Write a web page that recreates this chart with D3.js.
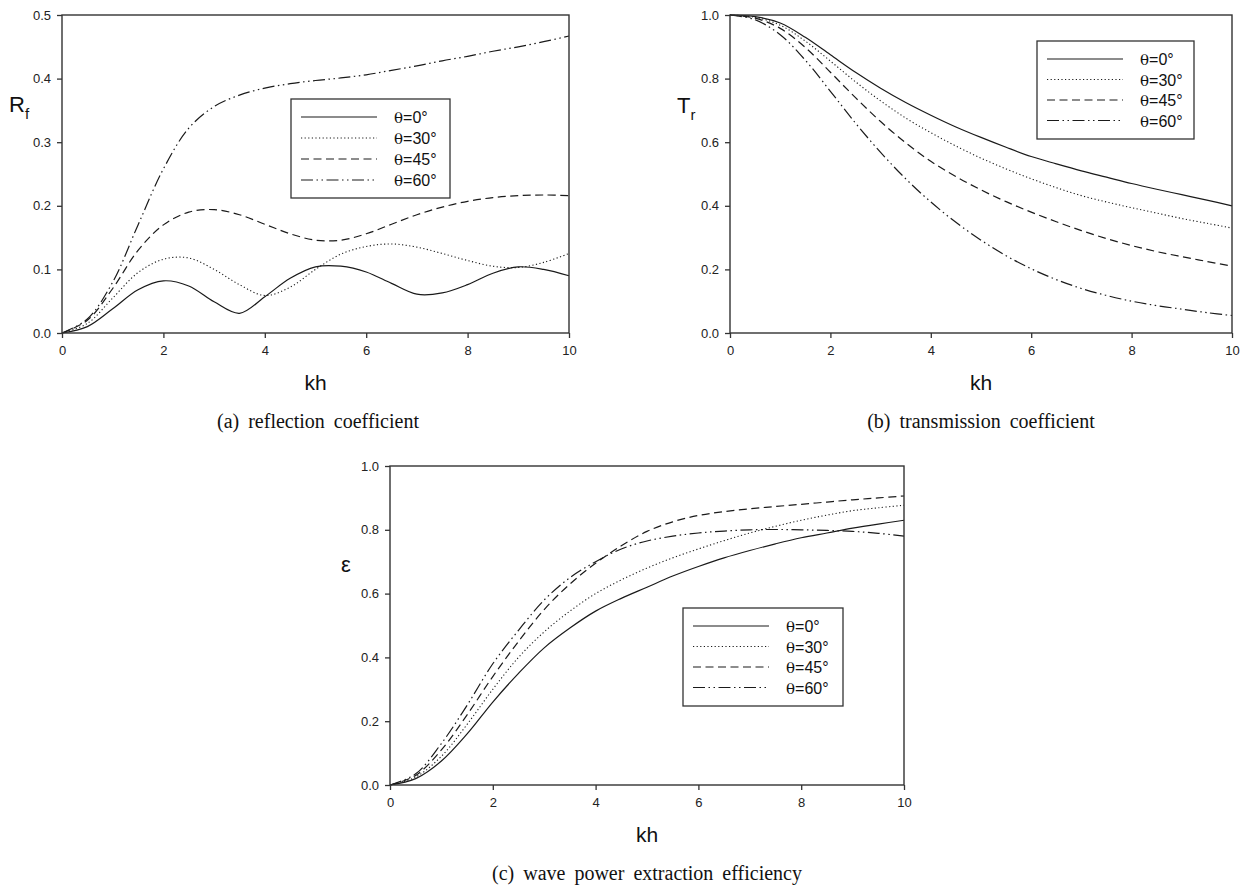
<!DOCTYPE html>
<html>
<head>
<meta charset="utf-8">
<script src="https://cdn.jsdelivr.net/npm/d3@7/dist/d3.min.js"></script>
<style>
  body { margin: 0; background: #fff; }
  svg { display: block; }
</style>
</head>
<body>
<svg id="chart" width="1250" height="891"></svg>
<script>
// kh grid shared by all curves
const kh = [0, 0.5, 1, 1.5, 2, 2.5, 3, 3.5, 4, 4.5, 5, 5.5, 6, 6.5, 7, 7.5, 8, 8.5, 9, 9.5, 10];

const seriesNames = ["θ=0°", "θ=30°", "θ=45°", "θ=60°"];

// (a) reflection coefficient
const rf0  = [0, 0.010, 0.038, 0.068, 0.082, 0.074, 0.049, 0.031, 0.057, 0.086, 0.104, 0.105, 0.096, 0.078, 0.061, 0.063, 0.076, 0.094, 0.104, 0.100, 0.090];
const rf30 = [0, 0.015, 0.055, 0.095, 0.116, 0.118, 0.100, 0.076, 0.059, 0.072, 0.100, 0.124, 0.136, 0.140, 0.135, 0.125, 0.114, 0.105, 0.103, 0.111, 0.125];
const rf45 = [0, 0.020, 0.070, 0.130, 0.170, 0.190, 0.194, 0.186, 0.171, 0.156, 0.146, 0.146, 0.156, 0.171, 0.186, 0.198, 0.207, 0.213, 0.216, 0.217, 0.216];
const rf60 = [0, 0.022, 0.080, 0.170, 0.258, 0.322, 0.356, 0.374, 0.385, 0.392, 0.397, 0.401, 0.406, 0.413, 0.420, 0.428, 0.435, 0.443, 0.450, 0.458, 0.467];

// (b) transmission coefficient
const tr0  = [1, 0.995, 0.975, 0.930, 0.875, 0.820, 0.770, 0.725, 0.685, 0.648, 0.615, 0.584, 0.555, 0.532, 0.510, 0.490, 0.470, 0.452, 0.435, 0.418, 0.400];
const tr30 = [1, 0.993, 0.968, 0.918, 0.855, 0.790, 0.730, 0.676, 0.630, 0.588, 0.550, 0.516, 0.485, 0.457, 0.432, 0.412, 0.394, 0.377, 0.360, 0.345, 0.330];
const tr45 = [1, 0.990, 0.958, 0.898, 0.820, 0.740, 0.665, 0.598, 0.540, 0.492, 0.450, 0.413, 0.380, 0.350, 0.322, 0.297, 0.275, 0.256, 0.240, 0.225, 0.210];
const tr60 = [1, 0.985, 0.938, 0.858, 0.760, 0.660, 0.568, 0.485, 0.412, 0.348, 0.292, 0.243, 0.202, 0.168, 0.140, 0.118, 0.100, 0.086, 0.075, 0.064, 0.055];

// (c) wave power extraction efficiency
const ep0  = [0, 0.020, 0.075, 0.160, 0.260, 0.350, 0.430, 0.492, 0.545, 0.585, 0.620, 0.655, 0.685, 0.712, 0.735, 0.756, 0.775, 0.790, 0.805, 0.818, 0.830];
const ep30 = [0, 0.025, 0.090, 0.190, 0.300, 0.400, 0.480, 0.545, 0.600, 0.643, 0.680, 0.712, 0.740, 0.766, 0.790, 0.811, 0.830, 0.846, 0.860, 0.869, 0.877];
const ep45 = [0, 0.030, 0.110, 0.220, 0.340, 0.450, 0.550, 0.630, 0.695, 0.750, 0.795, 0.825, 0.845, 0.857, 0.866, 0.873, 0.880, 0.887, 0.894, 0.900, 0.906];
const ep60 = [0, 0.035, 0.130, 0.250, 0.380, 0.485, 0.580, 0.650, 0.700, 0.740, 0.765, 0.780, 0.790, 0.796, 0.800, 0.801, 0.800, 0.798, 0.795, 0.789, 0.780];

const xTicks = [0, 2, 4, 6, 8, 10];
const yTicksHalf = [0, 0.1, 0.2, 0.3, 0.4, 0.5];
const yTicksOne = [0, 0.2, 0.4, 0.6, 0.8, 1.0];

// line styles for the four angles
const dashes = [null, "1.2,2.4", "8,4.5", "12,3.5,1.5,3.5,1.5,3.5"];

const svg = d3.select("#chart");
svg.append("rect").attr("width", 1250).attr("height", 891).attr("fill", "#fff");

function drawPanel(p) {
  const x = d3.scaleLinear().domain([0, 10]).range([p.left, p.right]);
  const y = d3.scaleLinear().domain([0, p.ymax]).range([p.bottom, p.top]);
  const g = svg.append("g");

  // curves
  const line = d3.line()
    .x((d, i) => x(kh[i]))
    .y(d => y(d))
    .curve(d3.curveCatmullRom.alpha(0.5));

  p.series.forEach((s, i) => {
    g.append("path")
      .attr("d", line(s))
      .attr("fill", "none")
      .attr("stroke", "#1a1a1a")
      .attr("stroke-width", i === 1 ? 1.1 : 1.2)
      .attr("stroke-dasharray", dashes[i]);
  });

  // frame
  g.append("rect")
    .attr("x", p.left).attr("y", p.top)
    .attr("width", p.right - p.left).attr("height", p.bottom - p.top)
    .attr("fill", "none").attr("stroke", "#333").attr("stroke-width", 1.4);

  // axes
  const xAxis = g.append("g")
    .attr("transform", "translate(0," + p.bottom + ")")
    .call(d3.axisBottom(x).tickValues(xTicks).tickSize(5).tickFormat(d3.format("d")));
  const yAxis = g.append("g")
    .attr("transform", "translate(" + p.left + ",0)")
    .call(d3.axisLeft(y).tickValues(p.yTicks).tickSize(5).tickFormat(d3.format(".1f")));
  [xAxis, yAxis].forEach(a => {
    a.select(".domain").remove();
    a.selectAll("line").attr("stroke", "#333").attr("stroke-width", 1.3);
    a.selectAll("text")
      .attr("fill", "#222")
      .style("font-family", "Liberation Sans, Arial, sans-serif")
      .style("font-size", "13px");
  });
  xAxis.selectAll("text").attr("dy", "1.05em");
  yAxis.selectAll("text").attr("x", -11);

  // x label
  g.append("text")
    .attr("x", (p.left + p.right) / 2).attr("y", p.bottom + 57)
    .attr("text-anchor", "middle")
    .style("font-family", "Liberation Sans, Arial, sans-serif")
    .style("font-size", "21px")
    .attr("fill", "#111")
    .text("kh");

  // y label
  const yl = g.append("text")
    .attr("x", p.ylabelX).attr("y", p.ylabelY)
    .style("font-family", "Liberation Sans, Arial, sans-serif")
    .attr("fill", "#111");
  yl.append("tspan").style("font-size", p.ylabelSize + "px").text(p.ylabel);
  if (p.ysub) {
    yl.append("tspan").attr("dy", 7).style("font-size", "15px").text(p.ysub);
  }

  // legend
  const lg = p.legend;
  g.append("rect")
    .attr("x", lg.x).attr("y", lg.y).attr("width", lg.w).attr("height", lg.h)
    .attr("fill", "#fff").attr("stroke", "#333").attr("stroke-width", 1.3);
  seriesNames.forEach((name, i) => {
    const cy = lg.y + lg.first + i * lg.step;
    g.append("line")
      .attr("x1", lg.x + 10).attr("x2", lg.x + 86)
      .attr("y1", cy).attr("y2", cy)
      .attr("stroke", "#1a1a1a").attr("stroke-width", i === 1 ? 1 : 1.2)
      .attr("stroke-dasharray", dashes[i]);
    const t = g.append("text")
      .attr("x", lg.x + 103).attr("y", cy + 6)
      .style("font-family", "Liberation Sans, Arial, sans-serif")
      .style("font-size", "16px")
      .attr("fill", "#111");
    t.append("tspan").style("font-family", "DejaVu Serif, serif").style("font-size", "15px").text(name.slice(0, 1));
    t.append("tspan").text(name.slice(1));
  });

  // caption
  g.append("text")
    .attr("x", p.capX).attr("y", p.capY)
    .attr("text-anchor", "middle")
    .style("font-family", "Liberation Serif, 'Times New Roman', serif")
    .style("font-size", "20px")
    .style("word-spacing", "4px")
    .attr("fill", "#111")
    .text(p.caption);
}

drawPanel({
  left: 62, right: 569, top: 15, bottom: 333, ymax: 0.5, yTicks: yTicksHalf,
  series: [rf0, rf30, rf45, rf60],
  ylabel: "R", ysub: "f", ylabelSize: 22, ylabelX: 9, ylabelY: 112,
  legend: { x: 291, y: 99, w: 159, h: 99, first: 18, step: 21 },
  caption: "(a) reflection coefficient", capX: 318, capY: 428
});

drawPanel({
  left: 730, right: 1232, top: 15, bottom: 333, ymax: 1.0, yTicks: yTicksOne,
  series: [tr0, tr30, tr45, tr60],
  ylabel: "T", ysub: "r", ylabelSize: 22, ylabelX: 677, ylabelY: 113,
  legend: { x: 1037, y: 41, w: 157, h: 98, first: 18, step: 20.5 },
  caption: "(b) transmission coefficient", capX: 981, capY: 428
});

drawPanel({
  left: 390, right: 904, top: 466, bottom: 785, ymax: 1.0, yTicks: yTicksOne,
  series: [ep0, ep30, ep45, ep60],
  ylabel: "ε", ysub: null, ylabelSize: 22, ylabelX: 341, ylabelY: 572,
  legend: { x: 683, y: 608, w: 160, h: 98, first: 18, step: 20.5 },
  caption: "(c) wave power extraction efficiency", capX: 647, capY: 880
});
</script>
</body>
</html>
